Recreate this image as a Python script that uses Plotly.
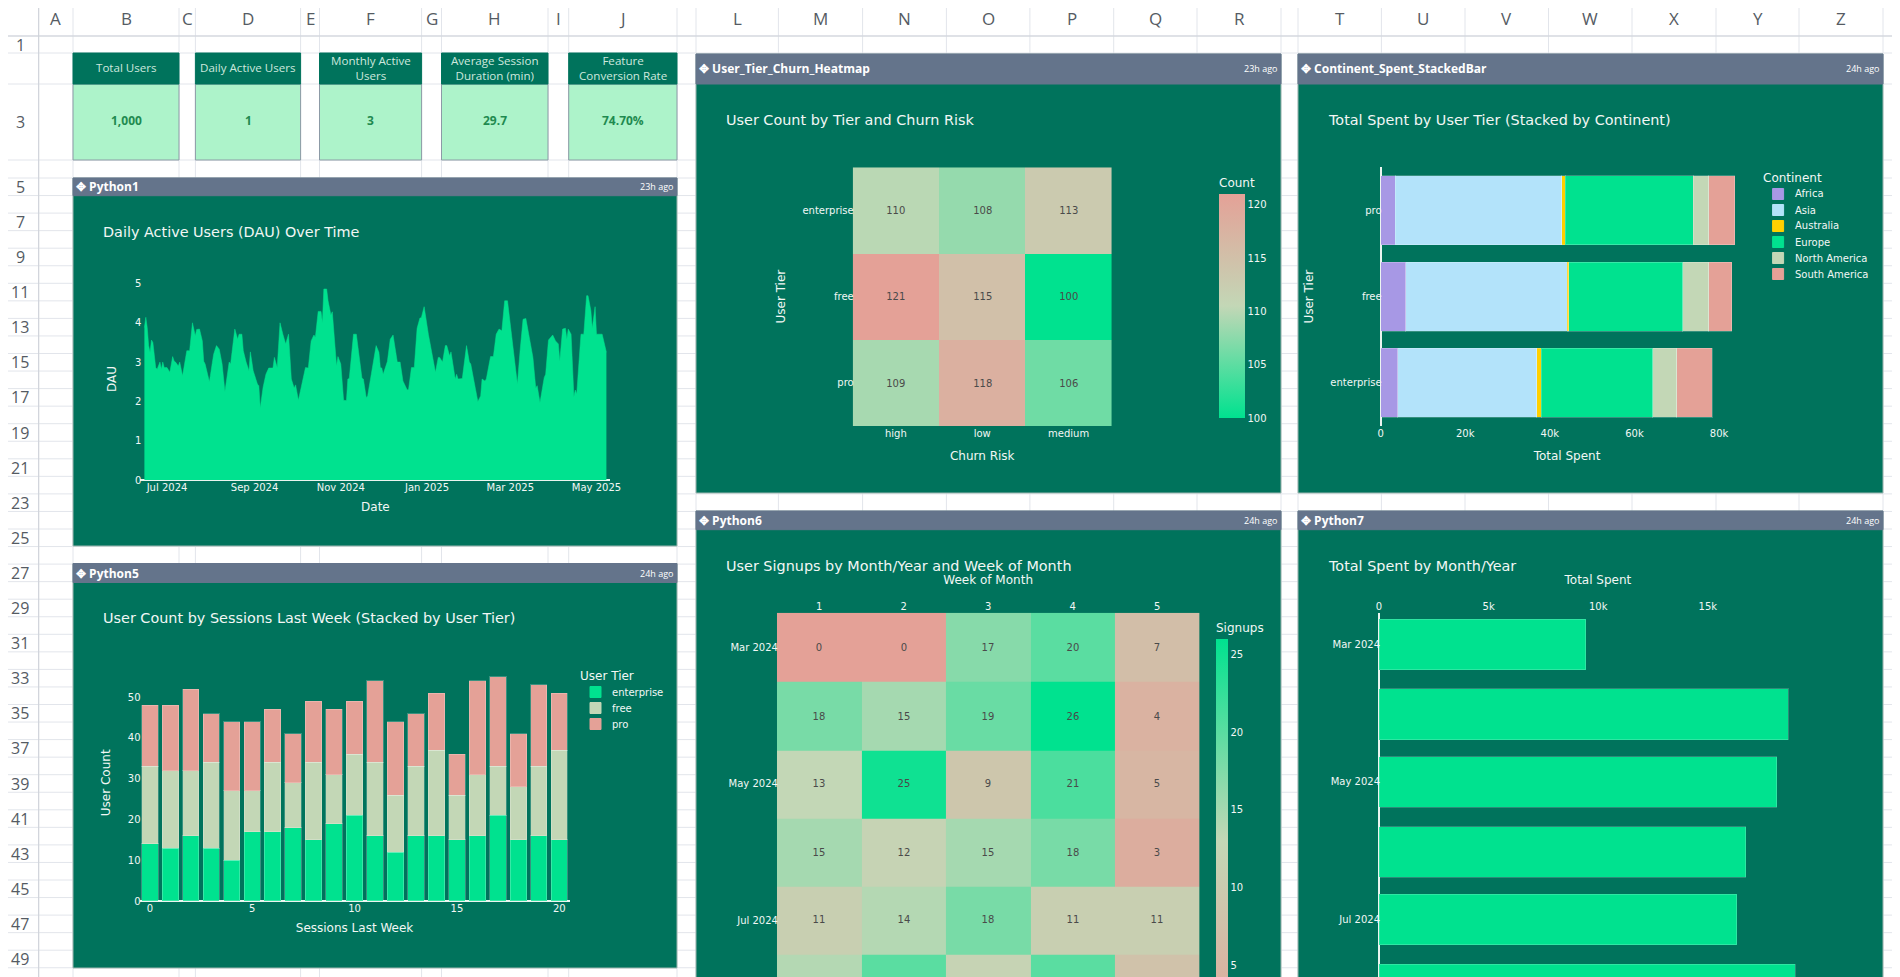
import pandas as pd
import plotly.graph_objects as go

W = 1900
H = 977
# the page keeps its default 8px body margin
PAGE_PAD = 8

GREEN = "#00E28F"
PANEL = "#00735C"
SLATE = "#64748B"
MINT = "#ADF3CA"
SAGE = "#C3D7B6"
SALMON = "#E4A197"
LILAC = "#A798E5"
SKY = "#B3E3FA"
GOLD = "#FFD000"
INK = "#F2F7F5"

# kpi cards
kpi_titles = ["Total Users", "Daily Active Users", "Monthly Active<br>Users",
              "Average Session<br>Duration (min)", "Feature<br>Conversion Rate"]
kpi_values = ["1,000", "1", "3", "29.7", "74.70%"]

# dau over time, day number counted from the start date
dau_start = "2024-06-15"
dau_days = [0, 1, 2, 3, 4, 5, 6, 7, 8, 9, 11, 12, 13, 14, 16, 18, 20, 21, 22, 24, 25, 27, 29, 30, 32, 34, 36, 37, 39,
            41, 42, 43, 46, 47, 49, 51, 53, 55, 57, 60, 61, 62, 64, 66, 67, 69, 70, 72, 74, 75, 77, 80, 81, 82, 84,
            86, 88, 91, 92, 94, 96, 98, 100, 102, 104, 106, 107, 109, 112, 114, 116, 118, 120, 121, 123, 125, 126,
            127, 129, 130, 132, 133, 136, 137, 139, 141, 143, 144, 145, 147, 148, 150, 152, 154, 155, 157, 158, 160,
            162, 164, 166, 167, 168, 169, 172, 174, 176, 179, 181, 183, 186, 187, 189, 191, 193, 195, 196, 198, 201,
            204, 206, 208, 209, 211, 213, 214, 216, 217, 218, 220, 221, 222, 225, 228, 230, 231, 233, 234, 236, 238,
            239, 241, 242, 245, 247, 249, 251, 253, 255, 257, 259, 261, 264, 266, 268, 270, 272, 275, 277, 278, 280,
            283, 284, 286, 289, 291, 293, 294, 296, 298, 299, 300, 302, 304, 305, 306, 309, 311, 313, 314, 316, 317,
            319, 320, 324, 325, 327]
dau_values = [3.88, 4.14, 3.88, 3.42, 3.25, 3.56, 3.5, 3.2, 2.86, 2.82, 3.0, 2.82, 3.0, 2.86, 2.86, 2.74, 3.14, 3.03,
              3.0, 2.9, 3.0, 2.65, 3.12, 3.29, 3.29, 4.0, 3.67, 3.83, 3.84,
              3.54, 3.02, 2.95, 2.5, 2.78, 3.2, 3.42, 3.33, 2.95, 2.25, 3.0, 2.95, 3.25, 3.84, 3.58, 3.71, 3.71, 3.29,
              3.0, 2.78, 3.26, 2.78, 2.44, 2.4, 1.83, 2.36,
              2.69, 2.85, 2.85, 3.12, 2.86, 4.0, 3.71, 3.46, 3.71, 2.57, 2.34, 2.42, 2.03, 2.57, 2.86, 2.85, 3.54,
              3.69, 3.63, 4.29, 4.29, 4.0,
              4.86, 4.86, 4.56, 4.2, 4.28, 2.9, 3.14, 2.95, 2.03, 2.02, 2.57, 2.58, 3.33, 3.71, 3.71, 3.08, 2.59, 2.57,
              2.1, 2.14, 2.57,
              2.95, 3.42, 3.25, 2.86, 2.85, 2.69, 3.02, 3.58, 3.69, 3.0, 3.0, 2.52, 2.29, 2.31, 2.86, 2.86, 3.86, 4.12,
              4.13, 4.41, 3.71,
              3.12, 2.74, 3.12, 3.12, 3.0, 3.42, 3.42, 3.16, 3.26, 3.03, 2.57, 2.69, 2.57, 2.58, 3.42, 3.0, 2.95, 2.57,
              2.36, 2.0, 2.14,
              2.57, 2.52, 2.57, 3.14, 3.14, 3.71, 3.84, 3.8, 4.56, 4.56, 3.97, 3.46, 2.44, 3.33, 4.09, 4.11, 3.71, 3.12,
              2.34, 2.4, 1.97,
              2.61, 2.69, 3.56, 3.69, 3.54, 3.46, 3.03, 3.84, 3.86, 3.58, 3.84, 3.71, 2.12, 2.29, 2.19, 3.71, 3.71,
              4.69, 4.69, 4.31, 3.86,
              4.41, 3.71, 3.71, 3.56, 3.25]

# sessions last week
sessions = list(range(21))
user_tiers = ["enterprise", "free", "pro"]
tier_colors = [GREEN, SAGE, SALMON]
enterprise_users = [14, 13, 16, 13, 10, 17, 17, 18, 15, 19, 21, 16, 12, 16, 16, 15, 16, 21, 15, 16, 15]
free_users = [19, 19, 16, 21, 17, 10, 17, 11, 19, 12, 15, 18, 14, 17, 21, 11, 15, 12, 13, 17, 22]
pro_users = [15, 16, 20, 12, 17, 17, 13, 12, 15, 16, 13, 20, 18, 13, 14, 10, 23, 22, 13, 20, 14]

# churn heatmap, rows bottom to top
churn_levels = ["high", "low", "medium"]
churn_tiers = ["pro", "free", "enterprise"]
churn_counts = [[109, 118, 106], [121, 115, 100], [110, 108, 113]]

# spend per continent, bars bottom to top
spend_tiers = ["enterprise", "free", "pro"]
continents = ["Africa", "Asia", "Australia", "Europe", "North America", "South America"]
continent_colors = [LILAC, SKY, GOLD, GREEN, SAGE, SALMON]
spent_africa = [4000, 5930, 3470]
spent_asia = [32900, 38200, 39400]
spent_australia = [1100, 360, 800]
spent_europe = [26350, 26900, 30200]
spent_north_america = [5600, 6200, 3700]
spent_south_america = [8500, 5400, 6200]

# signups, the rows are months
signup_months = ["2024-03-01", "2024-04-01", "2024-05-01", "2024-06-01", "2024-07-01", "2024-08-01"]
signup_weeks = [1, 2, 3, 4, 5]
signups = [[0, 0, 17, 20, 7],
           [18, 15, 19, 26, 4],
           [13, 25, 9, 21, 5],
           [15, 12, 15, 18, 3],
           [11, 14, 18, 11, 11],
           [14, 20, 12, 20, 8]]

# spend per month
spent_months = ["2024-03-01", "2024-04-01", "2024-05-01", "2024-06-01", "2024-07-01", "2024-08-01"]
spent_monthly = [9440, 18660, 18150, 16740, 16320, 18980]

# sheet grid
col_names = ["A", "B", "C", "D", "E", "F", "G", "H", "I", "J", "", "L", "M", "N", "O", "P", "Q", "R", "", "T", "U", "V",
             "W", "X", "Y", "Z"]
col_edges = [38.7, 73, 179, 195.4, 300.6, 319.5, 421.6, 441.5, 548, 568.7, 677, 696, 778.4, 862.6, 946.4, 1029.9, 1113.7,
             1197, 1281, 1298, 1381.4, 1465, 1548.5, 1632, 1716, 1799, 1883]


def fx(x):
    return (x - PAGE_PAD) / W


def fy(y):
    return 1 - (y - PAGE_PAD) / H


def dom_x(a, b):
    return [fx(a), fx(b)]


def dom_y(top, bottom):
    return [fy(bottom), fy(top)]


shapes = []
notes = []


def rect(x0, y0, x1, y1, fill, line=None):
    shapes.append(dict(type="rect", xref="paper", yref="paper", x0=fx(x0), x1=fx(x1), y0=fy(y0), y1=fy(y1),
                       fillcolor=fill, line=dict(color=line or fill, width=1), layer="below"))


def seg(x0, y0, x1, y1, color):
    shapes.append(dict(type="line", xref="paper", yref="paper", x0=fx(x0), x1=fx(x1), y0=fy(y0), y1=fy(y1),
                       line=dict(color=color, width=1), layer="below"))


def note(text, x, y, size=12, color=INK, anchor="left", family="DejaVu Sans"):
    # annotations carry about 2px of padding on their anchored side
    if anchor == "left":
        x -= 2
    elif anchor == "right":
        x += 2
    notes.append(dict(text=text, x=fx(x), y=fy(y), xref="paper", yref="paper", showarrow=False, xanchor=anchor,
                      yanchor="middle", font=dict(size=size, color=color, family=family)))


# grid
row_edges = [36, 53, 84, 160, 178]
while row_edges[-1] < H:
    row_edges.append(row_edges[-1] + 17.55)
for y in row_edges:
    seg(0, y, W, y, "#E2E5EB")
for x in col_edges:
    seg(x, 0, x, H, "#E2E5EB")
seg(0, 36, W, 36, "#CDD1D8")
seg(38.7, 0, 38.7, H, "#CDD1D8")

for i, name in enumerate(col_names):
    if name:
        note(name, (col_edges[i] + col_edges[i + 1]) / 2, 18, 17, "#555B63", "center", "Open Sans")
note("1", 20, 45, 16, "#555B63", "center", "Open Sans")
note("3", 20, 122, 16, "#555B63", "center", "Open Sans")
for k in range(5, 51, 2):
    note(str(k), 20, 178 + 17.55 * (k - 5) + 8.8, 16, "#555B63", "center", "Open Sans")

# cards
card_edges = [(73, 179), (195.4, 300.6), (319.5, 421.6), (441.5, 548), (568.7, 677)]
for (a, b), title, value in zip(card_edges, kpi_titles, kpi_values):
    rect(a, 84, b, 160, MINT, "#8C9AA6")
    rect(a, 53, b, 84, PANEL)
    note(title, (a + b) / 2, 68, 11.6, "#CDE8DE", "center", "Open Sans")
    note("<b>%s</b>" % value, (a + b) / 2, 121, 12, "#1F8A50", "center", "Open Sans")


def panel(x0, y0, x1, y1, bar, name, age, title, title_y):
    rect(x0, y0, x1, y1, PANEL, "#9DB7B0")
    rect(x0, y0, x1, y0 + bar, SLATE)
    note("<b>✥ %s</b>" % name, x0 + 3, y0 + bar / 2, 12, "#FFFFFF", "left", "Open Sans")
    note(age, x1 - 4, y0 + bar / 2, 9, "#FFFFFF", "right", "Open Sans")
    note(title, x0 + 29.5, title_y, 14.4)


panel(73, 178, 677, 546, 17.7, "Python1", "23h ago", "Daily Active Users (DAU) Over Time", 231.7)
panel(73, 563.5, 677, 968, 19, "Python5", "24h ago", "User Count by Sessions Last Week (Stacked by User Tier)", 618)
panel(696, 54, 1281, 493, 30, "User_Tier_Churn_Heatmap", "23h ago", "User Count by Tier and Churn Risk", 120)
panel(1298, 54, 1883, 493, 30, "Continent_Spent_StackedBar", "24h ago", "Total Spent by User Tier (Stacked by Continent)", 120)
panel(696, 511, 1281, 1000, 18.7, "Python6", "24h ago", "User Signups by Month/Year and Week of Month", 565.7)
panel(1298, 511, 1883, 1000, 18.7, "Python7", "24h ago", "Total Spent by Month/Year", 565.7)


# plotly's legend rows can't go under 19px, the sheet has them at 16
def legend_block(title, names, colors, x, y):
    note(title, x, y, 12)
    for i, (name, color) in enumerate(zip(names, colors)):
        row = y + 16 * (i + 1)
        rect(x + 10, row - 5.5, x + 21, row + 5.5, color)
        note(name, x + 32, row, 10)


legend_block("User Tier", user_tiers, tier_colors, 580, 676)
legend_block("Continent", continents, continent_colors, 1762.6, 178)

fig = go.Figure()

# dau
fig.add_trace(go.Scatter(x=pd.to_datetime(dau_start) + pd.to_timedelta(dau_days, unit="D"), y=dau_values,
                         mode="lines", fill="tozeroy", fillcolor=GREEN, line=dict(color=GREEN, width=0.5),
                         xaxis="x", yaxis="y"))

# sessions
bar_line = dict(color="rgba(255,255,255,0.22)", width=1)
for name, vals, color in zip(user_tiers, [enterprise_users, free_users, pro_users], tier_colors):
    fig.add_trace(go.Bar(x=sessions, y=vals, name=name, marker=dict(color=color, line=bar_line),
                         xaxis="x2", yaxis="y2"))

# churn heatmap
fig.add_trace(go.Heatmap(x=churn_levels, y=churn_tiers, z=churn_counts, zmin=100, zmax=121,
                         colorscale=[[0, GREEN], [0.5, SAGE], [1, SALMON]],
                         texttemplate="%{z}", textfont=dict(size=10, color="#4A4A4A"),
                         colorbar=dict(title=dict(text="Count", side="top", font=dict(size=12, color=INK)),
                                       x=fx(1219), xanchor="left", xpad=0, y=fy(175), yanchor="top", ypad=0,
                                       lenmode="pixels", len=243, thickness=25.5, thicknessmode="pixels",
                                       outlinewidth=0, tickfont=dict(size=10, color=INK), tick0=100, dtick=5),
                         xaxis="x3", yaxis="y3"))

# continents
continent_spend = [spent_africa, spent_asia, spent_australia, spent_europe, spent_north_america, spent_south_america]
for name, vals, color in zip(continents, continent_spend, continent_colors):
    fig.add_trace(go.Bar(y=spend_tiers, x=vals, name=name, orientation="h", marker=dict(color=color, line=bar_line),
                         xaxis="x4", yaxis="y4"))

# signups
fig.add_trace(go.Heatmap(x=signup_weeks, y=signup_months, z=signups, zmin=0, zmax=26,
                         colorscale=[[0, SALMON], [0.5, SAGE], [1, GREEN]],
                         texttemplate="%{z}", textfont=dict(size=10, color="#4A4A4A"),
                         colorbar=dict(title=dict(text="Signups", side="top", font=dict(size=12, color=INK)),
                                       x=fx(1216), xanchor="left", xpad=0, y=fy(620), yanchor="top", ypad=0,
                                       lenmode="pixels", len=423, thickness=12.3, thicknessmode="pixels",
                                       outlinewidth=0, tickfont=dict(size=10, color=INK), tick0=0, dtick=5),
                         xaxis="x5", yaxis="y5"))

# monthly spend
fig.add_trace(go.Bar(y=spent_months, x=spent_monthly, orientation="h", width=22.4 * 86400000,
                     marker=dict(color=GREEN, line=dict(color="rgba(255,255,255,0.18)", width=1)),
                     xaxis="x6", yaxis="y6"))


def axis(title, standoff, **kw):
    base = dict(showgrid=False, zeroline=False, showline=False, ticks="", automargin=False,
                tickfont=dict(size=10, color=INK),
                title=dict(text=title, standoff=standoff, font=dict(size=12, color=INK)))
    base.update(kw)
    return base


zero = dict(zeroline=True, zerolinecolor="#EAF5F0", zerolinewidth=2)

fig.update_layout(
    width=W, height=H, margin=dict(l=0, r=0, t=0, b=0, autoexpand=False),
    template="none", paper_bgcolor="#FFFFFF", plot_bgcolor="rgba(0,0,0,0)",
    font=dict(family="DejaVu Sans", size=10, color=INK),
    barmode="stack", bargap=0.2, showlegend=False,
    shapes=shapes, annotations=notes,
    xaxis=axis("Date", 10, domain=dom_x(140.4, 610.4), anchor="y", type="date",
               range=["2024-06-12 04:00", "2025-05-10 20:00"], dtick="M2", tick0="2024-07-01", tickformat="%b %Y"),
    yaxis=axis("DAU", 15, domain=dom_y(278, 480), anchor="x", range=[0, 5.14], dtick=1, ticklabelstandoff=-2, **zero),
    xaxis2=axis("Sessions Last Week", 10, domain=dom_x(139.6, 569.5), anchor="y2", range=[-0.5, 20.5], dtick=5),
    yaxis2=axis("User Count", 14, domain=dom_y(664.6, 901), anchor="x2", range=[0, 58], dtick=10, ticklabelstandoff=-2, **zero),
    xaxis3=axis("Churn Risk", 13, domain=dom_x(852.7, 1111.8), anchor="y3", type="category"),
    yaxis3=axis("User Tier", 14, domain=dom_y(167.3, 426), anchor="x3", type="category", ticklabelstandoff=-2),
    xaxis4=axis("Total Spent", 13, domain=dom_x(1380.6, 1753.5), anchor="y4", range=[0, 88150],
                tickvals=[0, 20000, 40000, 60000, 80000], ticktext=["0", "20k", "40k", "60k", "80k"], **zero),
    yaxis4=axis("User Tier", 14, domain=dom_y(167.3, 426), anchor="x4", type="category", ticklabelstandoff=-2, **zero),
    xaxis5=axis("Week of Month", 13, domain=dom_x(776.9, 1199.4), anchor="y5", side="top", range=[0.5, 5.5], dtick=1),
    yaxis5=axis("", 0, domain=dom_y(612.7, 977), anchor="x5", type="date", ticklabelstandoff=-2,
                range=["2024-07-26 10:00", "2024-02-14 12:00"], dtick="M2", tick0="2024-03-01", tickformat="%b %Y"),
    xaxis6=axis("Total Spent", 13, domain=dom_x(1379, 1816.8), anchor="y6", side="top", range=[0, 19970],
                tickvals=[0, 5000, 10000, 15000], ticktext=["0", "5k", "10k", "15k"], **zero),
    yaxis6=axis("", 0, domain=dom_y(612.7, 977), anchor="x6", type="date", ticklabelstandoff=-2,
                range=["2024-07-26 10:00", "2024-02-16"], dtick="M2", tick0="2024-03-01", tickformat="%b %Y"),
)

fig.write_html("out.html")
